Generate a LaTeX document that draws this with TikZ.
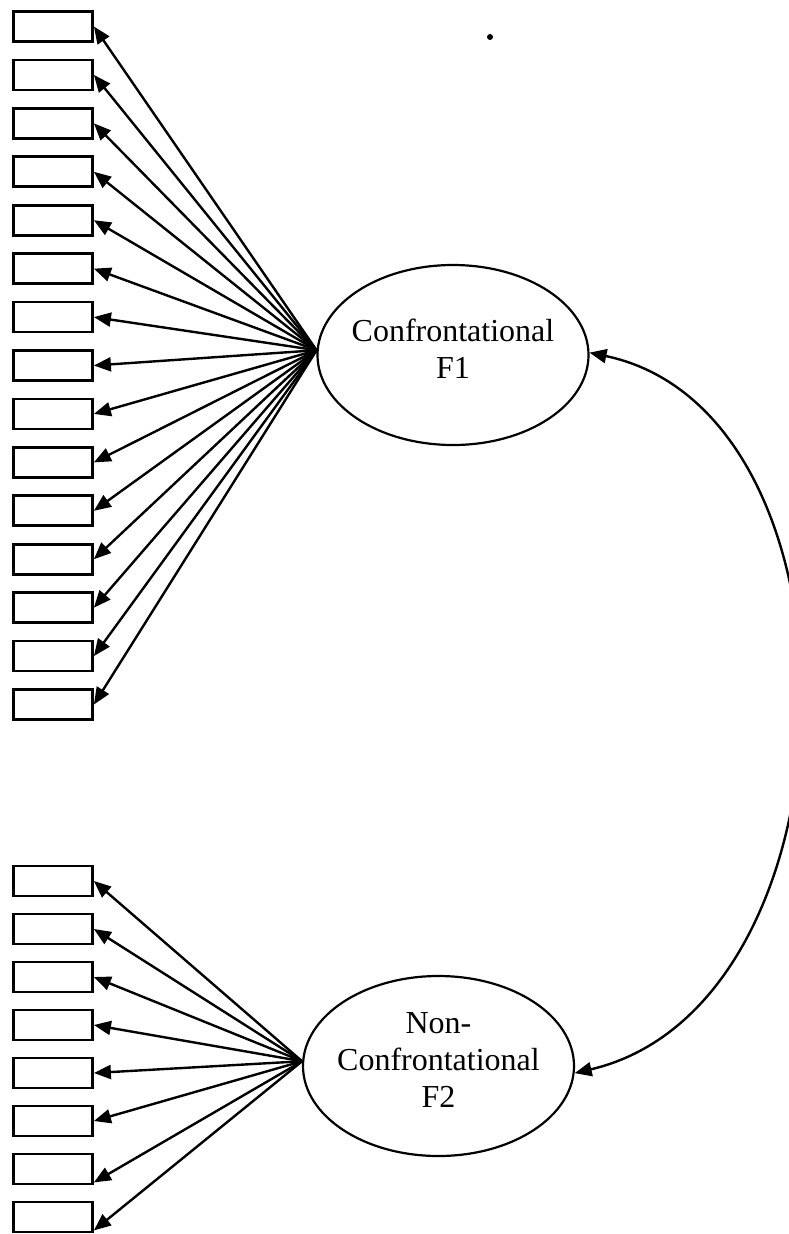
\documentclass[tikz,border=0pt]{standalone}
\usepackage{fontspec}
\setmainfont{Liberation Serif}
\usetikzlibrary{arrows.meta,shapes.geometric,calc}
\begin{document}
\begin{tikzpicture}[x=1pt,y=-1pt,
  obs/.style={draw, rectangle, line width=2.8pt, minimum width=79pt,
    minimum height=30pt, inner sep=0pt},
  latent/.style={draw, ellipse, line width=2.2pt, minimum width=271pt,
    minimum height=180pt, inner sep=0pt},
  lbl/.style={font=\fontsize{32}{37}\selectfont, align=center, inner sep=0pt},
  load/.style={line width=2.4pt, -{Triangle[length=17pt,width=14pt]}},
  cov/.style={line width=2.4pt,
    {Triangle[length=17pt,width=14pt]}-{Triangle[length=17pt,width=14pt]}}]
\clip (0,0) rectangle (789,1234);

% latent factors
\node[latent] (F1) at (453,355) {};
\node[lbl] (F1t) at (453,349) {Confrontational\\F1};
\node[latent] (F2) at (438.5,1066) {};
\node[lbl] (F2t) at (438.5,1060) {Non-\\Confrontational\\F2};

% indicators of F1
\foreach \i in {1,...,15} {
  \node[obs] (a\i) at (53,{26.5+48.43*(\i-1)}) {};
  \draw[load] (F1.178) -- (a\i.east);
}

% indicators of F2
\foreach \i in {1,...,8} {
  \node[obs] (b\i) at (53,{881+48*(\i-1)}) {};
}
\foreach \i in {1,...,6} {
  \draw[load] (F2.178) -- (b\i.east);
}
\foreach \i in {7,8} {
  \draw[load] (F2.178) -- ($(b\i.south east)+(0,-3)$);
}

% factor covariance
\draw[cov] (F1.1) .. controls +(285,60) and +(290,-68) .. (F2.357);

% stray mark
\fill (490,37) circle (3);
\end{tikzpicture}
\end{document}
